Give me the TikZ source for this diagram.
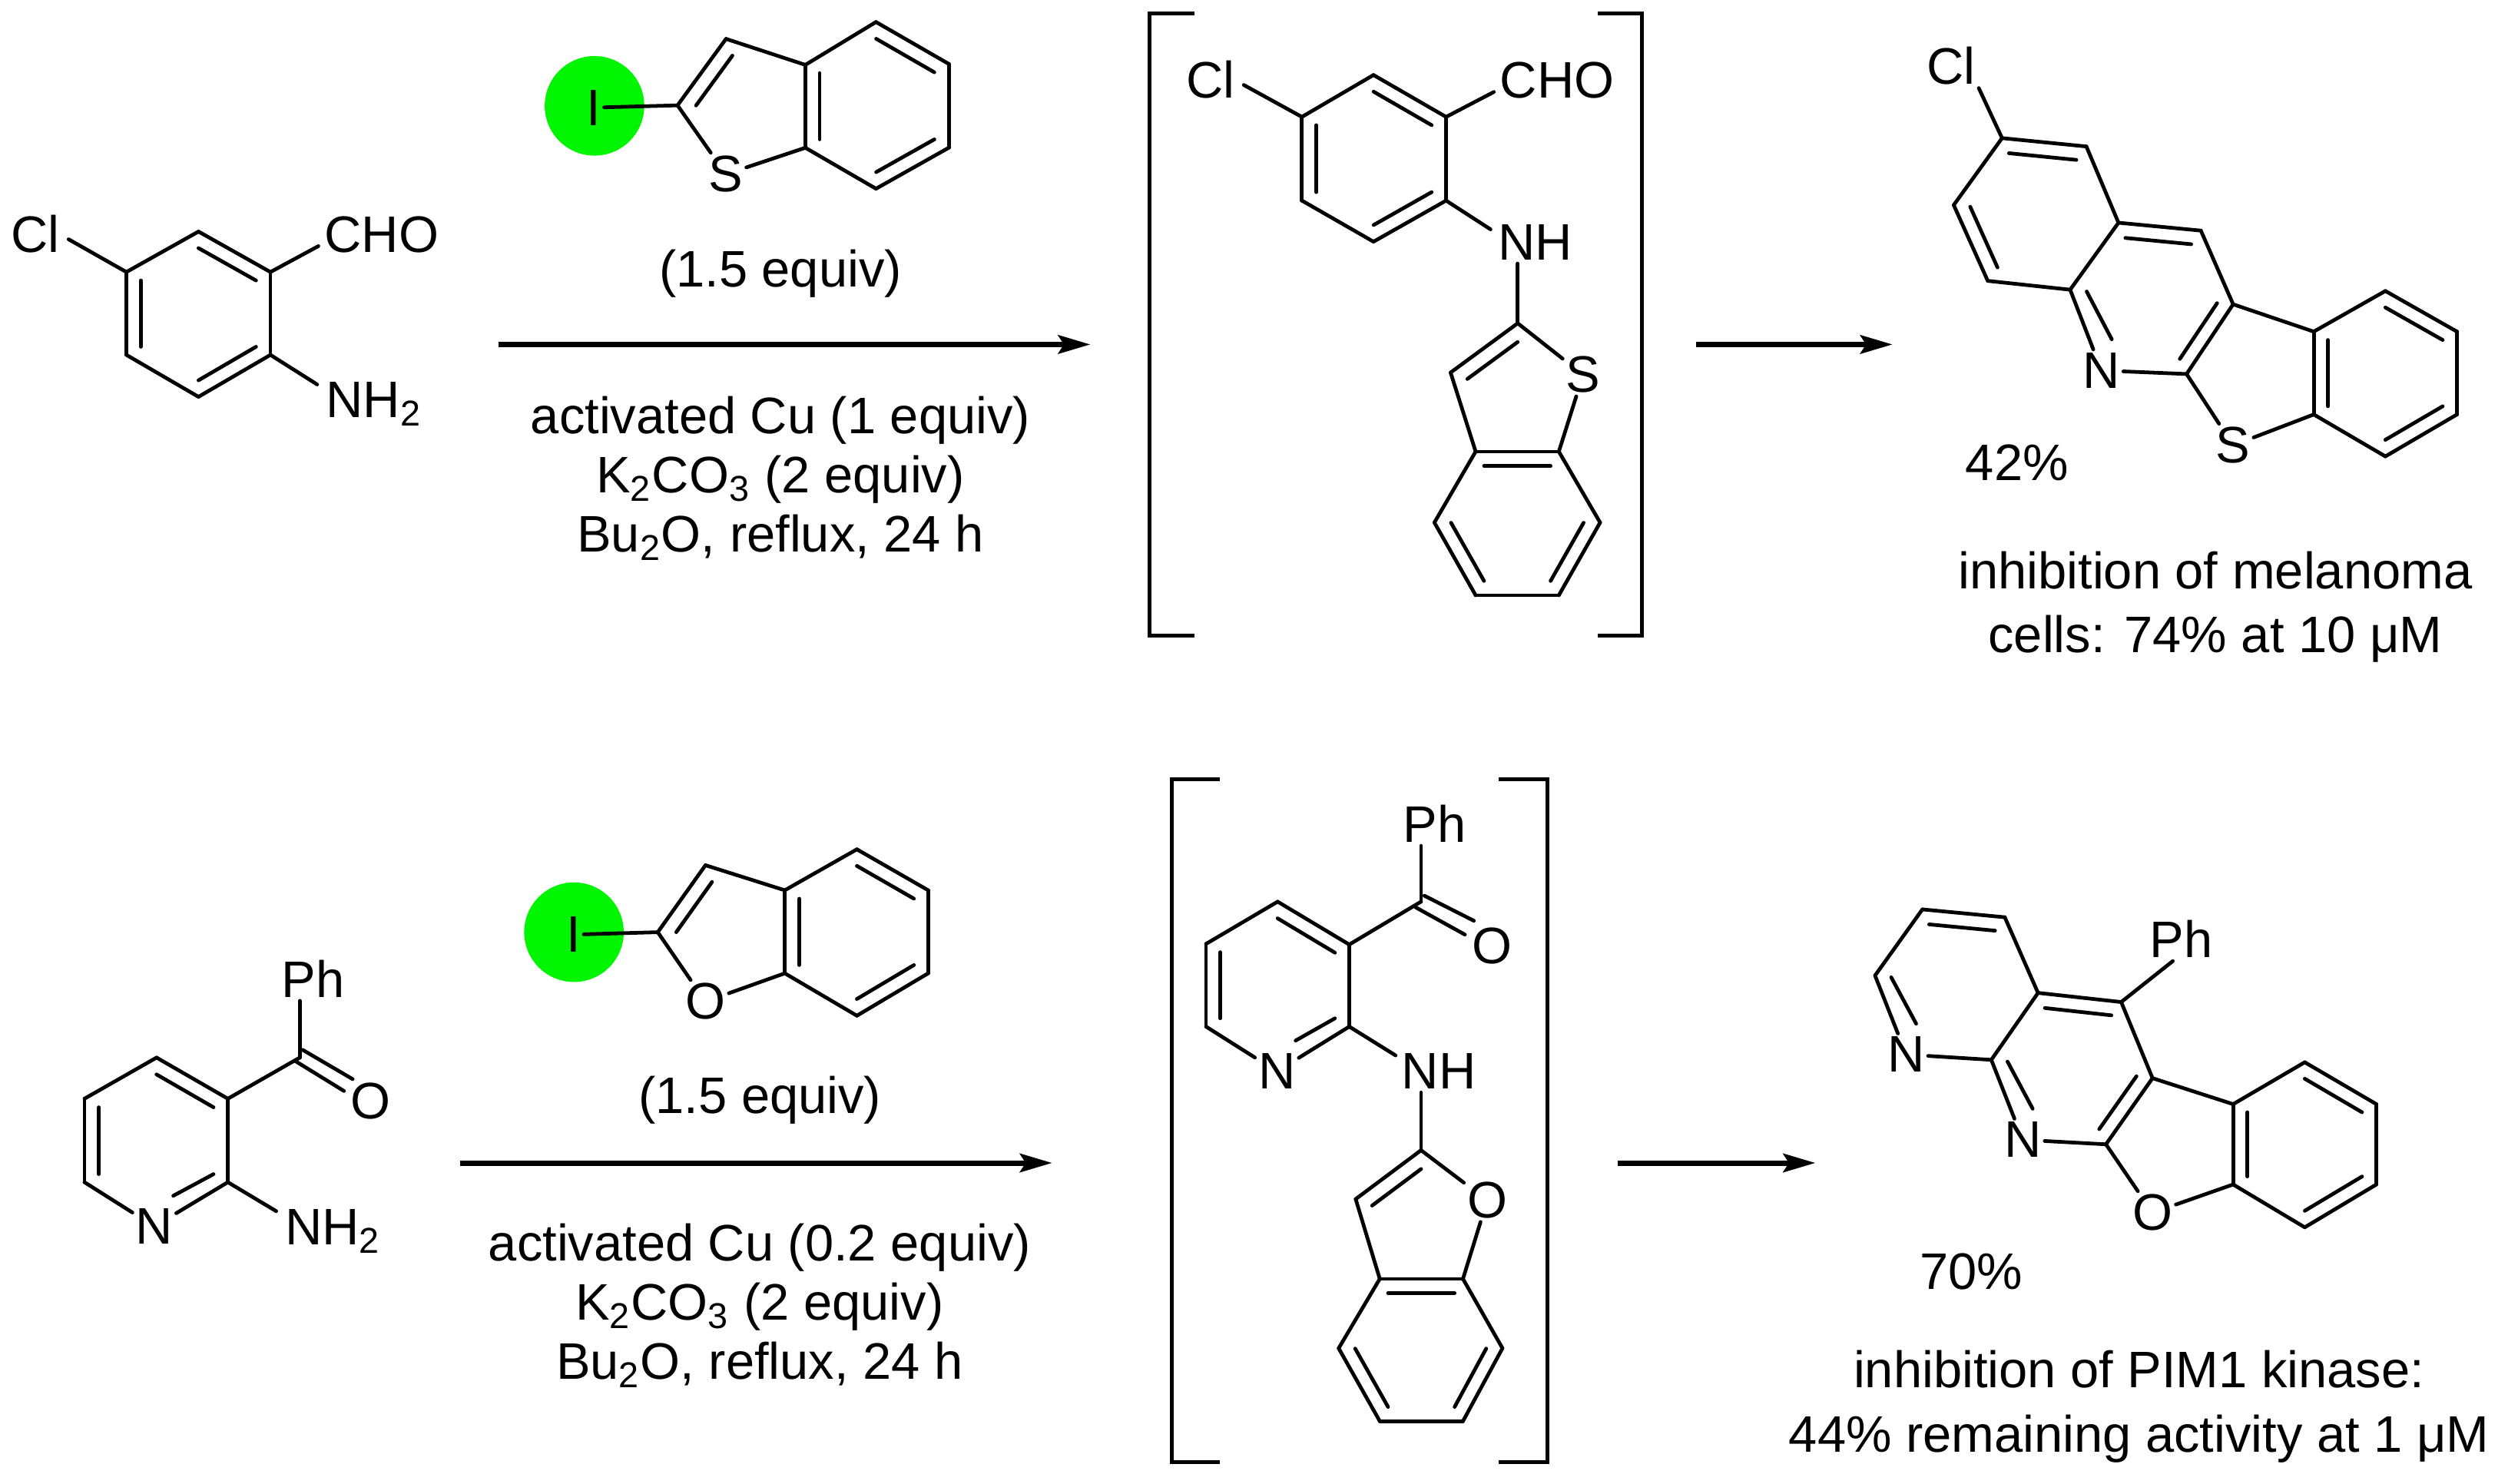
\documentclass[tikz,border=0pt]{standalone}
\usepackage{fontspec}
\setmainfont{Liberation Sans}
\usetikzlibrary{calc,arrows.meta}
\definecolor{hilite}{RGB}{0,245,0}

\begin{document}
\begin{tikzpicture}[x=0.02cm,y=-0.02cm]
    \tikzstyle{atom}=[inner sep=1pt, font=\fontsize{18.2}{21}\selectfont]
    \tikzstyle{group}=[atom, anchor=base west]
    \tikzstyle{note}=[atom, align=center]
    \tikzstyle{result}=[inner sep=1pt, align=center, font=\fontsize{18.2}{22.7}\selectfont]
    \tikzstyle{bond}=[line width=1.3pt, line cap=round]
    \tikzstyle{bracket}=[line width=1.3pt]
    \tikzstyle{rxn}=[line width=1.9pt, -{Stealth[length=0.4cm, width=0.23cm, inset=0.07cm]}]
    \tikzstyle{spot}=[circle, minimum size=1.24cm, inner sep=0pt, fill=hilite]
    \useasboundingbox (0,0) rectangle (1568,923.7);

    % top row: aldehyde
    \coordinate (a1) at (123.6,144.2);
    \coordinate (a2) at (168.4,169.4);
    \coordinate (a3) at (168.4,221);
    \coordinate (a4) at (123.6,247.1);
    \coordinate (a5) at (78.7,221);
    \coordinate (a6) at (78.7,169.4);
    \coordinate (ar) at (123.6,195.7);
    \node[atom] (acl) at (22,145.5){Cl};
    \node[group] (acho) at (200,157){CHO};
    \node[group] (anh) at (201,260){NH\textsubscript{2}};
    \path[-] (a1) edge [bond] (a2);
    \path[-] (a2) edge [bond] (a3);
    \path[-] (a3) edge [bond] (a4);
    \path[-] (a4) edge [bond] (a5);
    \path[-] (a5) edge [bond] (a6);
    \path[-] (a6) edge [bond] (a1);
    \path[-] ($(ar)!0.8!(a1)$) edge [bond] ($(ar)!0.8!(a2)$);
    \path[-] ($(ar)!0.8!(a3)$) edge [bond] ($(ar)!0.8!(a4)$);
    \path[-] ($(ar)!0.8!(a5)$) edge [bond] ($(ar)!0.8!(a6)$);
    \path[-] (a6) edge [bond] ([xshift=2pt,yshift=-2pt]acl.east);
    \path[-] (a2) edge [bond] ([xshift=-1pt,yshift=3.5pt]acho.south west);
    \path[-] (a3) edge [bond] ([xshift=-2pt,yshift=-2pt]anh.north west);

    % top row: iodide
    \node[spot] (bspot) at (370.2,65.9){};
    \coordinate (b1) at (421.9,65.6);
    \coordinate (b2) at (452.1,24.2);
    \coordinate (b3) at (501.5,40.4);
    \coordinate (b4) at (545.5,13.7);
    \coordinate (b5) at (590.8,39.8);
    \coordinate (b6) at (590.8,92);
    \coordinate (b7) at (545.5,117.5);
    \coordinate (b8) at (501.5,92);
    \coordinate (br) at (546,65.9);
    \coordinate (bf) at (468,66);
    \node[atom] (bi) at (369.7,67){I};
    \node[atom] (bs) at (452,108.5){S};
    \path[-] (bi) edge [bond] (b1);
    \path[-] (b1) edge [bond] (b2);
    \path[-] (b2) edge [bond] (b3);
    \path[-] (b3) edge [bond] (b4);
    \path[-] (b4) edge [bond] (b5);
    \path[-] (b5) edge [bond] (b6);
    \path[-] (b6) edge [bond] (b7);
    \path[-] (b7) edge [bond] (b8);
    \path[-] (b8) edge [bond] (b3);
    \path[-] (b1) edge [bond] (bs);
    \path[-] (bs) edge [bond] (b8);
    \path[-] ($(bf)!0.75!(b1)$) edge [bond] ($(bf)!0.75!(b2)$);
    \path[-] ($(br)!0.8!(b3)$) edge [bond] ($(br)!0.8!(b8)$);
    \path[-] ($(br)!0.8!(b4)$) edge [bond] ($(br)!0.8!(b5)$);
    \path[-] ($(br)!0.8!(b6)$) edge [bond] ($(br)!0.8!(b7)$);

    \node[atom] (beq) at (486,170.5){(1.5 equiv)};
    \coordinate (s1) at (310.3,214.5);
    \coordinate (t1) at (679,214.5);
    \path (s1) edge [rxn] (t1);
    \node[note] (bcond) at (486,298){activated Cu (1 equiv)\\K\textsubscript{2}CO\textsubscript{3} (2 equiv)\\Bu\textsubscript{2}O, reflux, 24 h};

    % top row: intermediate
    \draw[bracket] (743.8,8.2) -- (715.9,8.2) -- (715.9,395.7) -- (743.8,395.7);
    \draw[bracket] (994.7,8.2) -- (1022.6,8.2) -- (1022.6,395.7) -- (994.7,395.7);
    \coordinate (c1) at (855.3,46.7);
    \coordinate (c2) at (900.5,72.8);
    \coordinate (c3) at (900.5,124.9);
    \coordinate (c4) at (855.3,150.5);
    \coordinate (c5) at (810.7,124.9);
    \coordinate (c6) at (810.7,72.8);
    \coordinate (cr) at (855.6,98.6);
    \node[atom] (ccl) at (753.8,49.4){Cl};
    \node[group] (ccho) at (932,61){CHO};
    \node[atom] (cnh) at (956,151){NH};
    \path[-] (c1) edge [bond] (c2);
    \path[-] (c2) edge [bond] (c3);
    \path[-] (c3) edge [bond] (c4);
    \path[-] (c4) edge [bond] (c5);
    \path[-] (c5) edge [bond] (c6);
    \path[-] (c6) edge [bond] (c1);
    \path[-] ($(cr)!0.8!(c1)$) edge [bond] ($(cr)!0.8!(c2)$);
    \path[-] ($(cr)!0.8!(c3)$) edge [bond] ($(cr)!0.8!(c4)$);
    \path[-] ($(cr)!0.8!(c5)$) edge [bond] ($(cr)!0.8!(c6)$);
    \path[-] (c6) edge [bond] ([xshift=2pt,yshift=-2pt]ccl.east);
    \path[-] (c2) edge [bond] ([xshift=-1pt,yshift=3.5pt]ccho.south west);
    \path[-] (c3) edge [bond] ([xshift=-1.5pt,yshift=-2.8pt]cnh.north west);
    \coordinate (c7) at (945.1,201.3);
    \coordinate (c8) at (903.3,232);
    \coordinate (c9) at (918.9,281.2);
    \coordinate (c10) at (970.7,281.2);
    \coordinate (c11) at (996.4,325.4);
    \coordinate (c12) at (970.7,370.7);
    \coordinate (c13) at (918.9,370.7);
    \coordinate (c14) at (893.2,325.4);
    \coordinate (cq) at (945,326);
    \coordinate (cf) at (945,248);
    \node[atom] (cs) at (985.8,233.4){S};
    \path[-] (c7 |- cnh.south) edge [bond] (c7);
    \path[-] (c7) edge [bond] (c8);
    \path[-] (c8) edge [bond] (c9);
    \path[-] (c9) edge [bond] (c10);
    \path[-] (c10) edge [bond] (c11);
    \path[-] (c11) edge [bond] (c12);
    \path[-] (c12) edge [bond] (c13);
    \path[-] (c13) edge [bond] (c14);
    \path[-] (c14) edge [bond] (c9);
    \path[-] (c7) edge [bond] (cs);
    \path[-] (cs) edge [bond] (c10);
    \path[-] ($(cf)!0.75!(c7)$) edge [bond] ($(cf)!0.75!(c8)$);
    \path[-] ($(cq)!0.8!(c9)$) edge [bond] ($(cq)!0.8!(c10)$);
    \path[-] ($(cq)!0.8!(c11)$) edge [bond] ($(cq)!0.8!(c12)$);
    \path[-] ($(cq)!0.8!(c13)$) edge [bond] ($(cq)!0.8!(c14)$);

    \coordinate (s2) at (1056,214.5);
    \coordinate (t2) at (1178.5,214.5);
    \path (s2) edge [rxn] (t2);

    % top row: product
    \coordinate (d1) at (1246.7,86);
    \coordinate (d2) at (1299.2,91.2);
    \coordinate (d3) at (1319.2,138.7);
    \coordinate (d4) at (1289.1,180.4);
    \coordinate (d5) at (1237.8,174.9);
    \coordinate (d6) at (1216.6,127.7);
    \coordinate (d7) at (1370.5,143.6);
    \coordinate (d8) at (1390.6,189.5);
    \coordinate (d9) at (1361.6,232.9);
    \coordinate (d10) at (1440.8,206.5);
    \coordinate (d11) at (1485.4,181.2);
    \coordinate (d12) at (1530,206.5);
    \coordinate (d13) at (1530,258.1);
    \coordinate (d14) at (1485.4,284.2);
    \coordinate (d15) at (1440.8,258.1);
    \coordinate (dr) at (1268,133);
    \coordinate (dp) at (1340.6,186);
    \coordinate (dq) at (1485.4,232.6);
    \node[atom] (dcl) at (1215,41){Cl};
    \node[atom] (dn) at (1308.6,230.7){N};
    \node[atom] (ds) at (1390.6,277.3){S};
    \path[-] (d1) edge [bond] (dcl.south east);
    \path[-] (d1) edge [bond] (d2);
    \path[-] (d2) edge [bond] (d3);
    \path[-] (d3) edge [bond] (d4);
    \path[-] (d4) edge [bond] (d5);
    \path[-] (d5) edge [bond] (d6);
    \path[-] (d6) edge [bond] (d1);
    \path[-] (d3) edge [bond] (d7);
    \path[-] (d7) edge [bond] (d8);
    \path[-] (d8) edge [bond] (d9);
    \path[-] (d4) edge [bond] (dn);
    \path[-] (dn) edge [bond] (d9);
    \path[-] (d8) edge [bond] (d10);
    \path[-] (d9) edge [bond] (ds);
    \path[-] (ds) edge [bond] (d15);
    \path[-] (d10) edge [bond] (d11);
    \path[-] (d11) edge [bond] (d12);
    \path[-] (d12) edge [bond] (d13);
    \path[-] (d13) edge [bond] (d14);
    \path[-] (d14) edge [bond] (d15);
    \path[-] (d15) edge [bond] (d10);
    \path[-] ($(dr)!0.8!(d1)$) edge [bond] ($(dr)!0.8!(d2)$);
    \path[-] ($(dr)!0.8!(d5)$) edge [bond] ($(dr)!0.8!(d6)$);
    \path[-] ($(dp)!0.8!(d3)$) edge [bond] ($(dp)!0.8!(d7)$);
    \path[-] ($(dp)!0.8!(d8)$) edge [bond] ($(dp)!0.8!(d9)$);
    \path[-] ($(dp)!0.8!(d4)$) edge [bond] ($(dp)!0.8!(dn.north)$);
    \path[-] ($(dq)!0.8!(d10)$) edge [bond] ($(dq)!0.8!(d15)$);
    \path[-] ($(dq)!0.8!(d11)$) edge [bond] ($(dq)!0.8!(d12)$);
    \path[-] ($(dq)!0.8!(d13)$) edge [bond] ($(dq)!0.8!(d14)$);
    \node[atom] (dyield) at (1256,288){42\%};
    \node[result] (dnote) at (1379.5,378){inhibition of melanoma\\cells: 74\% at 10 μM};

    % bottom row: ketone
    \coordinate (e1) at (97.5,658.6);
    \coordinate (e2) at (141.9,684.2);
    \coordinate (e3) at (141.9,736.2);
    \coordinate (e5) at (52.6,736.2);
    \coordinate (e6) at (52.6,684.2);
    \coordinate (e7) at (186.7,658.6);
    \coordinate (er) at (97.3,711);
    \coordinate (eo1) at (188.5,653.8);
    \coordinate (eo2) at (219.6,672);
    \coordinate (eo3) at (183.5,660.5);
    \coordinate (eo4) at (214.2,679.4);
    \node[atom] (en) at (96.1,763.7){N};
    \node[atom] (eph) at (195,609.5){Ph};
    \node[atom] (eo) at (231,685.6){O};
    \node[group] (enh) at (175.5,775){NH\textsubscript{2}};
    \path[-] (e1) edge [bond] (e2);
    \path[-] (e2) edge [bond] (e3);
    \path[-] (e3) edge [bond] (en);
    \path[-] (en) edge [bond] (e5);
    \path[-] (e5) edge [bond] (e6);
    \path[-] (e6) edge [bond] (e1);
    \path[-] ($(er)!0.8!(e1)$) edge [bond] ($(er)!0.8!(e2)$);
    \path[-] ($(er)!0.8!(e3)$) edge [bond] ($(er)!0.85!(en.north east)$);
    \path[-] ($(er)!0.8!(e5)$) edge [bond] ($(er)!0.8!(e6)$);
    \path[-] (e2) edge [bond] (e7);
    \path[-] (e7) edge [bond] (e7 |- eph.south);
    \path[-] (eo1) edge [bond] (eo2);
    \path[-] (eo3) edge [bond] (eo4);
    \path[-] (e3) edge [bond] ([xshift=-2pt,yshift=-1.9pt]enh.north west);

    % bottom row: iodide
    \node[spot] (fspot) at (357.4,580.5){};
    \coordinate (f1) at (409.6,580.5);
    \coordinate (f2) at (439.3,538.8);
    \coordinate (f3) at (488.7,554.4);
    \coordinate (f4) at (533.6,528.9);
    \coordinate (f5) at (578,554.4);
    \coordinate (f6) at (578,606.1);
    \coordinate (f7) at (533.6,632.5);
    \coordinate (f8) at (488.7,606.1);
    \coordinate (fr) at (533.5,580.5);
    \coordinate (ff) at (455.6,580.5);
    \node[atom] (fi) at (357,582){I};
    \node[atom] (fo) at (439.3,623.7){O};
    \path[-] (fi) edge [bond] (f1);
    \path[-] (f1) edge [bond] (f2);
    \path[-] (f2) edge [bond] (f3);
    \path[-] (f3) edge [bond] (f4);
    \path[-] (f4) edge [bond] (f5);
    \path[-] (f5) edge [bond] (f6);
    \path[-] (f6) edge [bond] (f7);
    \path[-] (f7) edge [bond] (f8);
    \path[-] (f8) edge [bond] (f3);
    \path[-] (f1) edge [bond] (fo);
    \path[-] (fo) edge [bond] (f8);
    \path[-] ($(ff)!0.75!(f1)$) edge [bond] ($(ff)!0.75!(f2)$);
    \path[-] ($(fr)!0.8!(f3)$) edge [bond] ($(fr)!0.8!(f8)$);
    \path[-] ($(fr)!0.8!(f4)$) edge [bond] ($(fr)!0.8!(f5)$);
    \path[-] ($(fr)!0.8!(f6)$) edge [bond] ($(fr)!0.8!(f7)$);

    \node[atom] (feq) at (473.2,685){(1.5 equiv)};
    \coordinate (s3) at (286.5,724.2);
    \coordinate (t3) at (655.2,724.2);
    \path (s3) edge [rxn] (t3);
    \node[note] (fcond) at (473,813){activated Cu (0.2 equiv)\\K\textsubscript{2}CO\textsubscript{3} (2 equiv)\\Bu\textsubscript{2}O, reflux, 24 h};

    % bottom row: intermediate
    \draw[bracket] (759.4,485.4) -- (729.8,485.4) -- (729.8,910.5) -- (759.4,910.5);
    \draw[bracket] (933.4,485.4) -- (963.5,485.4) -- (963.5,910.5) -- (933.4,910.5);
    \coordinate (g1) at (795.6,561.5);
    \coordinate (g2) at (840.2,588.2);
    \coordinate (g3) at (840.2,639.3);
    \coordinate (g5) at (751,639.3);
    \coordinate (g6) at (751,587.8);
    \coordinate (g7) at (884.9,561.5);
    \coordinate (gr) at (795.6,613.5);
    \coordinate (go1) at (887,557.8);
    \coordinate (go2) at (917.8,573.4);
    \coordinate (go3) at (881.5,565);
    \coordinate (go4) at (912.2,582);
    \node[atom] (gn) at (795.1,667.2){N};
    \node[atom] (gph) at (893.2,513){Ph};
    \node[atom] (go) at (929,589){O};
    \node[atom] (gnh) at (896,667.2){NH};
    \path[-] (g1) edge [bond] (g2);
    \path[-] (g2) edge [bond] (g3);
    \path[-] (g3) edge [bond] (gn);
    \path[-] (gn) edge [bond] (g5);
    \path[-] (g5) edge [bond] (g6);
    \path[-] (g6) edge [bond] (g1);
    \path[-] ($(gr)!0.8!(g1)$) edge [bond] ($(gr)!0.8!(g2)$);
    \path[-] ($(gr)!0.8!(g3)$) edge [bond] ($(gr)!0.85!(gn.north east)$);
    \path[-] ($(gr)!0.8!(g5)$) edge [bond] ($(gr)!0.8!(g6)$);
    \path[-] (g2) edge [bond] (g7);
    \path[-] (g7) edge [bond] (g7 |- gph.south);
    \path[-] (go1) edge [bond] (go2);
    \path[-] (go3) edge [bond] (go4);
    \path[-] (g3) edge [bond] ([xshift=-1pt,yshift=-1.8pt]gnh.north west);
    \coordinate (g8) at (884.9,716.3);
    \coordinate (g9) at (844.2,746.7);
    \coordinate (g10) at (859.2,796.4);
    \coordinate (g11) at (911,796.4);
    \coordinate (g12) at (935.6,839.6);
    \coordinate (g13) at (911,885);
    \coordinate (g14) at (859.2,885);
    \coordinate (g15) at (833.6,839.6);
    \coordinate (gq) at (885,840.6);
    \coordinate (gf) at (885,763);
    \node[atom] (gfo) at (926.1,747.5){O};
    \path[-] (g8 |- gnh.south) edge [bond] (g8);
    \path[-] (g8) edge [bond] (g9);
    \path[-] (g9) edge [bond] (g10);
    \path[-] (g10) edge [bond] (g11);
    \path[-] (g11) edge [bond] (g12);
    \path[-] (g12) edge [bond] (g13);
    \path[-] (g13) edge [bond] (g14);
    \path[-] (g14) edge [bond] (g15);
    \path[-] (g15) edge [bond] (g10);
    \path[-] (g8) edge [bond] (gfo);
    \path[-] (gfo) edge [bond] (g11);
    \path[-] ($(gf)!0.75!(g8)$) edge [bond] ($(gf)!0.75!(g9)$);
    \path[-] ($(gq)!0.8!(g10)$) edge [bond] ($(gq)!0.8!(g11)$);
    \path[-] ($(gq)!0.8!(g12)$) edge [bond] ($(gq)!0.8!(g13)$);
    \path[-] ($(gq)!0.8!(g14)$) edge [bond] ($(gq)!0.8!(g15)$);

    \coordinate (s4) at (1007.5,724.2);
    \coordinate (t4) at (1130.5,724.2);
    \path (s4) edge [rxn] (t4);

    % bottom row: product
    \coordinate (h1) at (1197.1,566.3);
    \coordinate (h2) at (1248.4,571.2);
    \coordinate (h3) at (1269.1,618.3);
    \coordinate (h4) at (1240,660);
    \coordinate (h6) at (1167.6,607.5);
    \coordinate (h7) at (1320.9,624);
    \coordinate (h8) at (1340.4,671.4);
    \coordinate (h9) at (1311.4,712.6);
    \coordinate (h10) at (1390.6,687.6);
    \coordinate (h11) at (1435.2,661.5);
    \coordinate (h12) at (1479.8,687.6);
    \coordinate (h13) at (1479.8,737.6);
    \coordinate (h14) at (1435.2,764.3);
    \coordinate (h15) at (1390.6,737.6);
    \coordinate (hr) at (1218,613);
    \coordinate (hp) at (1290.4,665.4);
    \coordinate (hq) at (1435.2,712.8);
    \node[atom] (hn1) at (1187,656.7){N};
    \node[atom] (hn2) at (1259.6,709.8){N};
    \node[atom] (ho) at (1340.4,755.2){O};
    \node[atom] (hph) at (1358.3,584.8){Ph};
    \path[-] (h6) edge [bond] (hn1);
    \path[-] (h6) edge [bond] (h1);
    \path[-] (h1) edge [bond] (h2);
    \path[-] (h2) edge [bond] (h3);
    \path[-] (h3) edge [bond] (h4);
    \path[-] (h4) edge [bond] (hn1);
    \path[-] (h3) edge [bond] (h7);
    \path[-] (h7) edge [bond] (h8);
    \path[-] (h8) edge [bond] (h9);
    \path[-] (h4) edge [bond] (hn2);
    \path[-] (hn2) edge [bond] (h9);
    \path[-] (h7) edge [bond] ([xshift=-3pt]hph.south);
    \path[-] (h8) edge [bond] (h10);
    \path[-] (h9) edge [bond] (ho);
    \path[-] (ho) edge [bond] (h15);
    \path[-] (h10) edge [bond] (h11);
    \path[-] (h11) edge [bond] (h12);
    \path[-] (h12) edge [bond] (h13);
    \path[-] (h13) edge [bond] (h14);
    \path[-] (h14) edge [bond] (h15);
    \path[-] (h15) edge [bond] (h10);
    \path[-] ($(hr)!0.8!(h1)$) edge [bond] ($(hr)!0.8!(h2)$);
    \path[-] ($(hr)!0.8!(h6)$) edge [bond] ($(hr)!0.8!(hn1.north)$);
    \path[-] ($(hp)!0.8!(h3)$) edge [bond] ($(hp)!0.8!(h7)$);
    \path[-] ($(hp)!0.8!(h8)$) edge [bond] ($(hp)!0.8!(h9)$);
    \path[-] ($(hp)!0.8!(h4)$) edge [bond] ($(hp)!0.8!(hn2.north)$);
    \path[-] ($(hq)!0.8!(h10)$) edge [bond] ($(hq)!0.8!(h15)$);
    \path[-] ($(hq)!0.8!(h11)$) edge [bond] ($(hq)!0.8!(h12)$);
    \path[-] ($(hq)!0.8!(h13)$) edge [bond] ($(hq)!0.8!(h14)$);
    \node[atom] (hyield) at (1227.5,792){70\%};
    \node[result] (hnote) at (1332,876){inhibition of PIM1 kinase:\\44\% remaining activity at 1 μM};
\end{tikzpicture}
\end{document}
